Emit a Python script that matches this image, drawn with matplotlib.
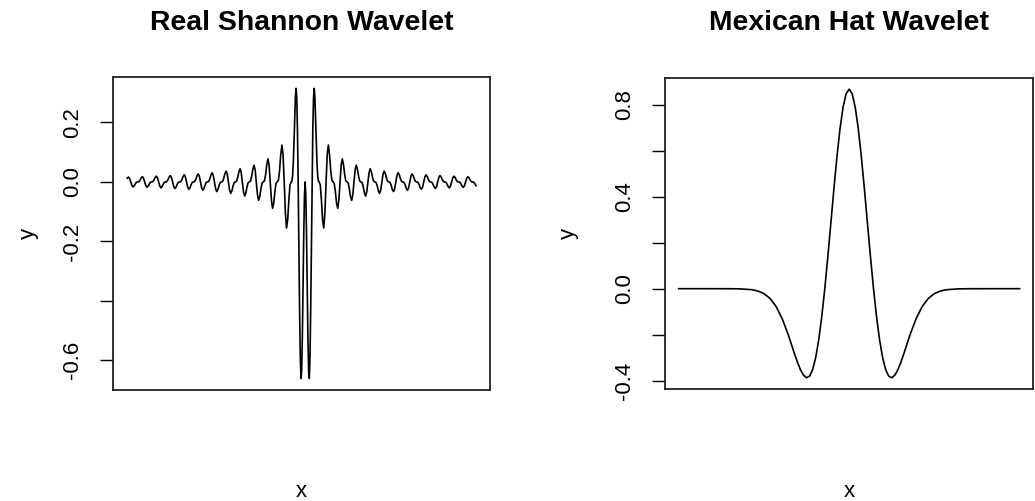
import matplotlib
matplotlib.use("Agg")
import matplotlib.pyplot as plt

plt.rcParams['font.family'] = ['Liberation Sans', 'DejaVu Sans']

# Real Shannon wavelet (x in wavelet units)
shannon_x_left = [
    -25.5, -25.33, -25.17, -25, -24.83, -24.67, -24.5, -24.33, -24.17, -24,
    -23.83, -23.67, -23.5, -23.33, -23.17, -23, -22.83, -22.67, -22.5, -22.33, -22.17, -22,
    -21.83, -21.67, -21.5, -21.33, -21.17, -21, -20.83, -20.67, -20.5, -20.33, -20.17, -20,
    -19.83, -19.67, -19.5, -19.33, -19.17, -19, -18.83, -18.67, -18.5, -18.33, -18.17, -18,
    -17.83, -17.67, -17.5, -17.33, -17.17, -17, -16.83, -16.67, -16.5, -16.33, -16.17, -16,
    -15.83, -15.67, -15.5, -15.33, -15.17, -15, -14.83, -14.67, -14.5, -14.33, -14.17, -14,
    -13.83, -13.67, -13.5, -13.33, -13.17, -13, -12.83, -12.67, -12.5, -12.33, -12.17, -12,
    -11.83, -11.67, -11.5, -11.33, -11.17, -11, -10.83, -10.67, -10.5, -10.33, -10.17, -10,
    -9.83, -9.67, -9.5, -9.33, -9.17, -9, -8.83, -8.67, -8.5, -8.33, -8.17, -8,
    -7.83, -7.67, -7.5, -7.33, -7.17, -7, -6.83, -6.67, -6.5, -6.33, -6.17, -6,
    -5.83, -5.67, -5.5, -5.33, -5.17, -5, -4.83, -4.67, -4.5, -4.33, -4.17, -4,
    -3.83, -3.67, -3.5, -3.33, -3.17, -3, -2.83, -2.67, -2.5, -2.33, -2.17,
]
shannon_y_left = [
    0.0125, 0.0163, 0.0118, 0, -0.0120, -0.0168, -0.0130, -0.0057, -0.0009, 0,
    0.0009, 0.0058, 0.0135, 0.0177, 0.0128, 0, -0.0130, -0.0182, -0.0142, -0.0062, -0.0010, 0,
    0.0010, 0.0064, 0.0148, 0.0194, 0.0140, 0, -0.0143, -0.0200, -0.0155, -0.0068, -0.0011, 0,
    0.0011, 0.0070, 0.0163, 0.0214, 0.0155, 0, -0.0158, -0.0222, -0.0172, -0.0075, -0.0012, 0,
    0.0012, 0.0078, 0.0182, 0.0239, 0.0173, 0, -0.0176, -0.0248, -0.0193, -0.0084, -0.0013, 0,
    0.0014, 0.0088, 0.0205, 0.0270, 0.0196, 0, -0.0200, -0.0282, -0.0220, -0.0096, -0.0015, 0,
    0.0015, 0.0101, 0.0236, 0.0310, 0.0226, 0, -0.0231, -0.0326, -0.0255, -0.0112, -0.0018, 0,
    0.0018, 0.0118, 0.0277, 0.0365, 0.0266, 0, -0.0274, -0.0388, -0.0303, -0.0133, -0.0021, 0,
    0.0022, 0.0143, 0.0335, 0.0443, 0.0324, 0, -0.0336, -0.0477, -0.0375, -0.0165, -0.0026, 0,
    0.0027, 0.0180, 0.0424, 0.0564, 0.0414, 0, -0.0435, -0.0620, -0.0490, -0.0218, -0.0035, 0,
    0.0037, 0.0243, 0.0579, 0.0775, 0.0575, 0, -0.0615, -0.0886, -0.0707, -0.0318, -0.0051, 0,
    0.0056, 0.0376, 0.0909, 0.1241, 0.0938, 0, -0.1048, -0.1550, -0.1273, -0.0591, -0.0098,
]
shannon_x_center = [
    -2.0, -1.9, -1.8, -1.7, -1.6, -1.5, -1.4, -1.3, -1.2, -1.1,
    -1.0, -0.9, -0.8, -0.7, -0.6, -0.5, -0.4, -0.3, -0.2, -0.1,
    0.0,
    0.1, 0.2, 0.3, 0.4, 0.5, 0.6, 0.7, 0.8, 0.9, 1.0,
    1.1, 1.2, 1.3, 1.4, 1.5, 1.6, 1.7, 1.8, 1.9, 2.0,
]
shannon_y_center = [
    0, 0.003, 0.020, 0.063, 0.131, 0.212, 0.283, 0.315, 0.282, 0.174,
    0, -0.213, -0.423, -0.584, -0.661, -0.637, -0.523, -0.354, -0.179, -0.048,
    0,
    -0.048, -0.179, -0.354, -0.523, -0.637, -0.661, -0.584, -0.423, -0.213, 0,
    0.174, 0.282, 0.315, 0.283, 0.212, 0.131, 0.063, 0.020, 0.003, 0,
]
shannon_x_right = [
    2.17, 2.33, 2.5, 2.67, 2.83, 3, 3.17, 3.33, 3.5, 3.67, 3.83, 4,
    4.17, 4.33, 4.5, 4.67, 4.83, 5, 5.17, 5.33, 5.5, 5.67, 5.83, 6,
    6.17, 6.33, 6.5, 6.67, 6.83, 7, 7.17, 7.33, 7.5, 7.67, 7.83, 8,
    8.17, 8.33, 8.5, 8.67, 8.83, 9, 9.17, 9.33, 9.5, 9.67, 9.83, 10,
    10.17, 10.33, 10.5, 10.67, 10.83, 11, 11.17, 11.33, 11.5, 11.67, 11.83, 12,
    12.17, 12.33, 12.5, 12.67, 12.83, 13, 13.17, 13.33, 13.5, 13.67, 13.83, 14,
    14.17, 14.33, 14.5, 14.67, 14.83, 15, 15.17, 15.33, 15.5, 15.67, 15.83, 16,
    16.17, 16.33, 16.5, 16.67, 16.83, 17, 17.17, 17.33, 17.5, 17.67, 17.83, 18,
    18.17, 18.33, 18.5, 18.67, 18.83, 19, 19.17, 19.33, 19.5, 19.67, 19.83, 20,
    20.17, 20.33, 20.5, 20.67, 20.83, 21, 21.17, 21.33, 21.5, 21.67, 21.83, 22,
    22.17, 22.33, 22.5, 22.67, 22.83, 23, 23.17, 23.33, 23.5, 23.67, 23.83, 24,
    24.17, 24.33, 24.5,
]
shannon_y_right = [
    -0.0098, -0.0591, -0.1273, -0.1550, -0.1048, 0, 0.0938, 0.1241, 0.0909, 0.0376, 0.0056, 0,
    -0.0051, -0.0318, -0.0707, -0.0886, -0.0615, 0, 0.0575, 0.0775, 0.0579, 0.0243, 0.0037, 0,
    -0.0035, -0.0218, -0.0490, -0.0620, -0.0435, 0, 0.0414, 0.0564, 0.0424, 0.0180, 0.0027, 0,
    -0.0026, -0.0165, -0.0375, -0.0477, -0.0336, 0, 0.0324, 0.0443, 0.0335, 0.0143, 0.0022, 0,
    -0.0021, -0.0133, -0.0303, -0.0388, -0.0274, 0, 0.0266, 0.0365, 0.0277, 0.0118, 0.0018, 0,
    -0.0018, -0.0112, -0.0255, -0.0326, -0.0231, 0, 0.0226, 0.0310, 0.0236, 0.0101, 0.0015, 0,
    -0.0015, -0.0096, -0.0220, -0.0282, -0.0200, 0, 0.0196, 0.0270, 0.0205, 0.0088, 0.0014, 0,
    -0.0013, -0.0084, -0.0193, -0.0248, -0.0176, 0, 0.0173, 0.0239, 0.0182, 0.0078, 0.0012, 0,
    -0.0012, -0.0075, -0.0172, -0.0222, -0.0158, 0, 0.0155, 0.0214, 0.0163, 0.0070, 0.0011, 0,
    -0.0011, -0.0068, -0.0155, -0.0200, -0.0143, 0, 0.0140, 0.0194, 0.0148, 0.0064, 0.0010, 0,
    -0.0010, -0.0062, -0.0142, -0.0182, -0.0130, 0, 0.0128, 0.0177, 0.0135, 0.0058, 0.0009, 0,
    -0.0009, -0.0057, -0.0130,
]

# Mexican hat wavelet
hat_x = [
    -7, -6, -5, -4.5, -4, -3.75, -3.5, -3.25, -3, -2.75, -2.5, -2.25,
    -2.125, -2, -1.875, -1.75, -1.625, -1.5, -1.375, -1.25, -1.125, -1,
    -0.875, -0.75, -0.625, -0.5, -0.375, -0.25, -0.125, 0,
    0.125, 0.25, 0.375, 0.5, 0.625, 0.75, 0.875,
    1, 1.125, 1.25, 1.375, 1.5, 1.625, 1.75, 1.875, 2, 2.125,
    2.25, 2.5, 2.75, 3, 3.25, 3.5, 3.75, 4, 4.5, 5, 6, 7,
]
hat_y = [
    0, 0, -0.0001, -0.0007, -0.0044, -0.0100, -0.0213, -0.0422, -0.0771, -0.130, -0.200, -0.281,
    -0.319, -0.352, -0.376, -0.387, -0.380, -0.352, -0.300, -0.223, -0.122, 0,
    0.139, 0.286, 0.435, 0.574, 0.695, 0.788, 0.847, 0.867,
    0.847, 0.788, 0.695, 0.574, 0.435, 0.286, 0.139,
    0, -0.122, -0.223, -0.300, -0.352, -0.380, -0.387, -0.376, -0.352, -0.319,
    -0.281, -0.200, -0.130, -0.0771, -0.0422, -0.0213, -0.0100, -0.0044, -0.0007, -0.0001, 0, 0,
]

shannon_ticks = [-0.6, -0.4, -0.2, 0.0, 0.2]
shannon_ticklabels = ['-0.6', '', '-0.2', '0.0', '0.2']
hat_ticks = [-0.4, -0.2, 0.0, 0.2, 0.4, 0.6, 0.8]
hat_ticklabels = ['-0.4', '', '0.0', '', '0.4', '', '0.8']

shannon_x = shannon_x_left + shannon_x_center + shannon_x_right
shannon_y = shannon_y_left + shannon_y_center + shannon_y_right

W, H = 1035, 501
fig = plt.figure(figsize=(W / 100, H / 100), dpi=100)
ax1 = fig.add_axes([113.3 / W, 111 / H, 376.7 / W, 313.3 / H])
ax2 = fig.add_axes([665 / W, 111.7 / H, 368.3 / W, 311.7 / H])


def style(ax, ticks, labels, title, ylab_x):
    ax.margins(x=0.04, y=0.04)
    ax.set_xticks([])
    ax.set_yticks(ticks)
    ax.set_yticklabels(labels, rotation=90, ha='center', va='center', fontsize=16)
    ax.tick_params(axis='y', length=9.6, width=1.0, pad=19.5, colors='black')
    for s in ax.spines.values():
        s.set_linewidth(1.3)
        s.set_color('#222222')
    pos = ax.get_position()
    cx = (pos.x0 + pos.x1) / 2
    fig.text(cx, 1 - 30 / H, title, ha='center', va='baseline',
             fontsize=20.4, fontweight='bold')
    fig.text(cx, 4 / H, 'x', ha='center', va='baseline', fontsize=16)
    fig.text(ylab_x / W, (pos.y0 + pos.y1) / 2, 'y', rotation=90,
             ha='center', va='center', fontsize=16)


ax1.plot(shannon_x, shannon_y, color='black', lw=1.2)
style(ax1, shannon_ticks, shannon_ticklabels, 'Real Shannon Wavelet', 28)

ax2.plot(hat_x, hat_y, color='black', lw=1.2)
style(ax2, hat_ticks, hat_ticklabels, 'Mexican Hat Wavelet', 568)

fig.savefig('out.png', dpi=100)
